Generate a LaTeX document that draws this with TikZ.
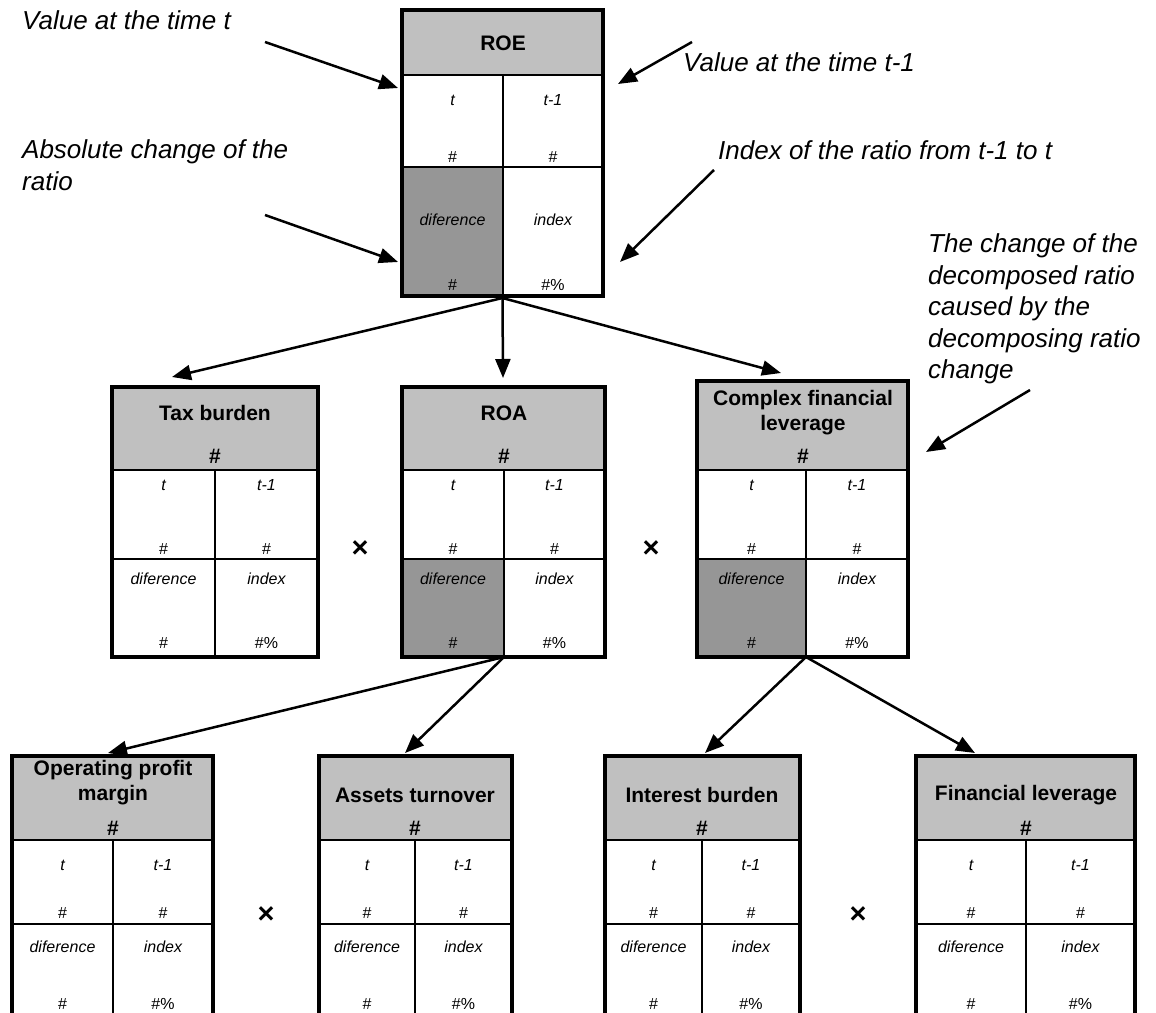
\documentclass[tikz,border=0pt]{standalone}
\usepackage{fontspec}
\setmainfont{Liberation Sans}
\usetikzlibrary{arrows.meta,fit,calc}
\definecolor{hdr}{HTML}{C0C0C0}
\definecolor{dgr}{HTML}{969696}
\tikzset{
 frame/.style={draw=black, line width=4pt, inner sep=0pt},
 thinl/.style={line width=1.3pt},
 hline/.style={line width=2.5pt},
 arr/.style={line width=2.5pt, -{Triangle[length=19pt,width=15pt]}},
 small/.style={font=\fontsize{16}{19}\selectfont\itshape, inner sep=0pt},
 val/.style={font=\fontsize{16}{19}\selectfont, inner sep=0pt},
 ttl/.style={font=\fontsize{21}{25}\selectfont\bfseries, align=center, inner sep=0pt},
 note/.style={font=\fontsize{26}{31.5}\selectfont\itshape, align=left, inner sep=0pt, anchor=west},
 times/.style={font=\fontsize{29}{29}\selectfont\bfseries, inner sep=0pt},
}
\newcommand\rbox[9]{%
 \fill[hdr] (#2,#5) rectangle (#3,#6);
 \fill[#9] (#2,#7) rectangle (#4,#8);
 \draw[thinl] (#4,#6) -- (#4,#8) (#2,#7) -- (#3,#7);
 \draw[hline] (#2,#6) -- (#3,#6);
 \node[frame, fit={(#2,#5) (#3,#8)}] (#1) {};
 \pgfmathsetmacro\rbL{(#2+#4)/2}\pgfmathsetmacro\rbR{(#4+#3)/2}
 \node[small] (#1t) at (\rbL,\yT) {t};
 \node[small] (#1tp) at (\rbR,\yT) {t-1};
 \node[val] (#1tv) at (\rbL,\yTv) {\#};
 \node[val] (#1tpv) at (\rbR,\yTv) {\#};
 \node[small] (#1d) at (\rbL,\yD) {diference};
 \node[small] (#1i) at (\rbR,\yD) {index};
 \node[val] (#1dv) at (\rbL,\yDv) {\#};
 \node[val] (#1iv) at (\rbR,\yDv) {\#\%};
}
\begin{document}
\begin{tikzpicture}[x=1pt,y=-1pt]
\useasboundingbox (0,0) rectangle (1156,1012);
% ROE
\def\yT{100}\def\yTv{157}\def\yD{220}\def\yDv{285}
\rbox{roe}{402}{603}{503}{10}{75}{167}{296}{dgr}
\node[ttl] (roettl) at (503,43) {ROE};
% middle row
\def\yT{485}\def\yTv{549}\def\yD{579}\def\yDv{643}
\rbox{tax}{112}{318}{215}{387}{470}{559}{657}{white}
\rbox{roa}{402}{605}{504}{387}{470}{559}{657}{dgr}
\rbox{cfl}{697}{908}{806}{381}{470}{559}{657}{dgr}
\node[ttl] (taxttl) at (215,413) {Tax burden};
\node[ttl] (taxh) at (215,456) {\#};
\node[ttl] (roattl) at (504,413) {ROA};
\node[ttl] (roah) at (504,456) {\#};
\node[ttl] (cflttl) at (803,413) {Complex financial\\leverage};
\node[ttl] (cflh) at (803,456) {\#};
\node[times] (x1) at (360,549) {×};
\node[times] (x2) at (651,549) {×};
% bottom row
\def\yT{865}\def\yTv{913}\def\yD{947}\def\yDv{1004}
\rbox{opm}{12}{213}{113}{756}{840}{924}{1040}{white}
\rbox{at}{319}{512}{415}{756}{840}{924}{1040}{white}
\rbox{ib}{605}{800}{702}{756}{840}{924}{1040}{white}
\rbox{fl}{916}{1135}{1026}{756}{840}{924}{1040}{white}
\node[ttl] (opmttl) at (113,783) {Operating profit\\margin};
\node[ttl] (opmh) at (113,828) {\#};
\node[ttl] (atttl) at (415,795) {Assets turnover};
\node[ttl] (ath) at (415,828) {\#};
\node[ttl] (ibttl) at (702,795) {Interest burden};
\node[ttl] (ibh) at (702,828) {\#};
\node[ttl] (flttl) at (1026,795) {Financial leverage};
\node[ttl] (flh) at (1026,828) {\#};
\node[times] (x3) at (266,915) {×};
\node[times] (x4) at (858,915) {×};
% tree arrows
\coordinate (taxin) at (172,377);
\coordinate (roain) at (503,378);
\coordinate (cflin) at (781,373);
\coordinate (roaout) at (504,657);
\coordinate (cflout) at (806,657);
\coordinate (opmin) at (108,753);
\coordinate (atin) at (405,753);
\coordinate (ibin) at (705,753);
\coordinate (flin) at (975,753);
\draw[arr] (roe.south) -- (taxin);
\draw[arr] (roe.south) -- (roain);
\draw[arr] (roe.south) -- (cflin);
\draw[arr] (roaout) -- (opmin);
\draw[arr] (roaout) -- (atin);
\draw[arr] (cflout) -- (ibin);
\draw[arr] (cflout) -- (flin);
% notes
\node[note] (n1) at (22,20) {Value at the time t};
\node[note] (n2) at (683,62) {Value at the time t-1};
\node[note] (n3) at (22,165) {Absolute change of the\\ratio};
\node[note] (n4) at (718,150) {Index of the ratio from t-1 to t};
\node[note] (n5) at (928,309) {The change of the\\decomposed ratio\\caused by the\\decomposing ratio\\change};
\coordinate (a1s) at (265,42); \coordinate (a1e) at (398,88);
\coordinate (a2s) at (692,42); \coordinate (a2e) at (618,84);
\coordinate (a3s) at (265,215); \coordinate (a3e) at (398,262);
\coordinate (a4s) at (714,170); \coordinate (a4e) at (620,262);
\coordinate (a5s) at (1030,390); \coordinate (a5e) at (926,452);
\draw[arr] (a1s) -- (a1e);
\draw[arr] (a2s) -- (a2e);
\draw[arr] (a3s) -- (a3e);
\draw[arr] (a4s) -- (a4e);
\draw[arr] (a5s) -- (a5e);
\end{tikzpicture}
\end{document}
